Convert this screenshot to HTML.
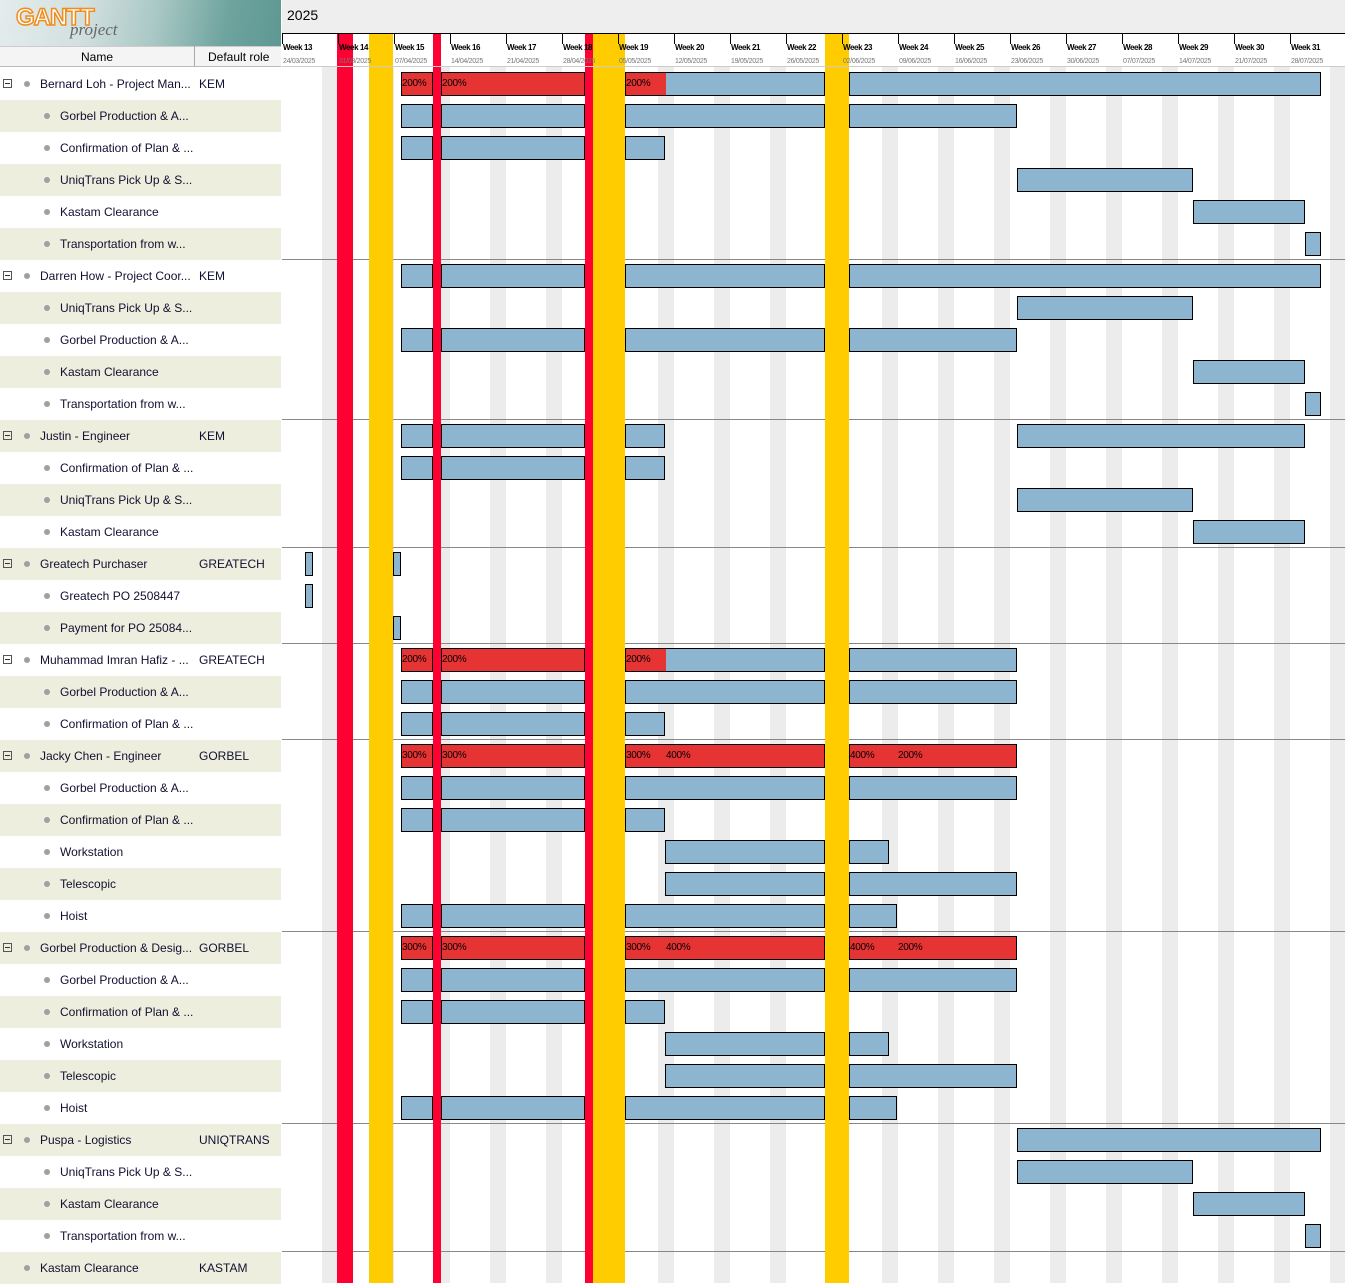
<!DOCTYPE html>
<html><head><meta charset="utf-8">
<style>
body{margin:0;width:1345px;height:1283px;overflow:hidden;background:#fff;font-family:"Liberation Sans",sans-serif;position:relative}
.a{position:absolute}
#hdr{left:282px;top:0;width:1063px;height:33px;background:#eeeeee;border-bottom:1px solid #000}
.wk{position:absolute;top:43px;font-size:8px;font-weight:bold;color:#000;letter-spacing:-0.4px;z-index:4}
.dt{position:absolute;top:58px;font-size:7px;color:#777;letter-spacing:-0.3px;z-index:4}
.tk{position:absolute;top:34px;width:1px;height:10px;background:#000;z-index:4}
.row{position:absolute;left:0;width:281px;height:32px;font-size:12px;line-height:32px;color:#101030}
.b{position:absolute;background:#8eb5cf;border:1px solid #000;box-sizing:border-box;height:24px}
.r{background:#e63333}
.lb{position:absolute;font-size:10px;line-height:24px;color:#000;letter-spacing:-0.3px}
.exp{position:absolute;left:3px;top:11px;width:7px;height:7px;border:1px solid #555;font-size:0}
.exp:after{content:"";position:absolute;left:1px;top:3px;width:5px;height:1px;background:#333}
.dot{position:absolute;top:13px;width:6px;height:6px;border-radius:50%;background:#a0a0a0}
</style></head><body>
<div class="a" style="left:0;top:0;width:281px;height:46px;background:linear-gradient(100deg,#e4ecec 0%,#d2e0df 30%,#a9c8c5 55%,#6ea39e 80%,#5e9893 100%)"></div>
<div class="a" style="left:16px;top:4px;font-size:24px;font-weight:bold;color:#fff;-webkit-text-stroke:1.5px #f08c1a;letter-spacing:-1px">GANTT</div>
<div class="a" style="left:70px;top:20px;font-size:17px;font-style:italic;color:#666;font-family:'Liberation Serif',serif">project</div>
<div class="a" style="left:0;top:46px;width:281px;height:21px;background:#f4f4f4;border-top:1px solid #ccc;border-bottom:1px solid #bbb;box-sizing:border-box"></div>
<div class="a" style="left:194px;top:46px;width:1px;height:21px;background:#aaa"></div>
<div class="a" style="left:81px;top:50px;font-size:12px">Name</div>
<div class="a" style="left:208px;top:50px;font-size:12px">Default role</div>
<div id="hdr" class="a"></div>
<div class="a" style="left:287px;top:7px;font-size:14px">2025</div>
<div class="a" style="left:282px;top:66px;width:1063px;height:1px;background:#ccc;z-index:4"></div>
<div id="g"></div>
<script>
var g=document.getElementById('g'),h='';
function box(x,y,w,hh,c,z){h+='<div class="a" style="left:'+x+'px;top:'+y+'px;width:'+w+'px;height:'+hh+'px;background:'+c+(z?';z-index:'+z:'')+'"></div>';}
for(var i=0;i<38;i++){if(i%2)box(0,68+32*i,281,32,'#eeeedf');}
for(var k=0;k<19;k++){box(282+56*k+40,67,16,1216,'#ececec');}
var dates=['24/03/2025','31/03/2025','07/04/2025','14/04/2025','21/04/2025','28/04/2025','05/05/2025','12/05/2025','19/05/2025','26/05/2025','02/06/2025','09/06/2025','16/06/2025','23/06/2025','30/06/2025','07/07/2025','14/07/2025','21/07/2025','28/07/2025'];
for(var k=0;k<19;k++){var x=282+56*k;h+='<div class="tk" style="left:'+x+'px"></div><div class="wk" style="left:'+(x+1)+'px">Week '+(13+k)+'</div><div class="dt" style="left:'+(x+1)+'px">'+dates[k]+'</div>';}
[259,419,547,643,739,931,1123,1251].forEach(function(y){box(282,y,1063,1,'#888');});
var A=[401,433],B=[441,585],C=[625,825],C1=[625,665],D=[849,1321],E=[849,1017];
var rows={0:[A,B,C,D],1:[A,B,C,E],2:[A,B,C1],3:[[1017,1193]],4:[[1193,1305]],5:[[1305,1321]],
6:[A,B,C,D],7:[[1017,1193]],8:[A,B,C,E],9:[[1193,1305]],10:[[1305,1321]],
11:[A,B,C1,[1017,1305]],12:[A,B,C1],13:[[1017,1193]],14:[[1193,1305]],
15:[[305,313],[393,401]],16:[[305,313]],17:[[393,401]],
18:[A,B,C,E],19:[A,B,C,E],20:[A,B,C1],
21:[A,B,C,E],22:[A,B,C,E],23:[A,B,C1],24:[[665,825],[849,889]],25:[[665,825],E],26:[A,B,C,[849,897]],
27:[A,B,C,E],28:[A,B,C,E],29:[A,B,C1],30:[[665,825],[849,889]],31:[[665,825],E],32:[A,B,C,[849,897]],
33:[[1017,1321]],34:[[1017,1193]],35:[[1193,1305]],36:[[1305,1321]]};
var red={0:1,18:1,21:2,27:2};
for(var r in rows){var y=72+32*r;rows[r].forEach(function(s){var cls='b';var bg='';
 if(red[r]==2&&s!==D)cls+=' r';
 if(red[r]==1&&(s===A||s===B))cls+=' r';
 if(red[r]==1&&s===C)bg=';background:linear-gradient(90deg,#e63333 0,#e63333 40px,#8eb5cf 40px)';
 h+='<div class="'+cls+'" style="left:'+s[0]+'px;top:'+y+'px;width:'+(s[1]-s[0])+'px'+bg+'"></div>';});}
[[337,16,'#ff0033'],[433,8,'#ff0033'],[585,8,'#ff0033'],[369,24,'#ffcc00'],[593,32,'#ffcc00'],[825,24,'#ffcc00']].forEach(function(s){box(s[0],34,s[1],1249,s[2],2);});
g.innerHTML=h;
</script>
<div style="position:absolute;left:0;top:0;z-index:3">
<div class="lb" style="left:402px;top:72px">200%</div><div class="lb" style="left:442px;top:72px">200%</div><div class="lb" style="left:626px;top:72px">200%</div>
<div class="lb" style="left:402px;top:648px">200%</div><div class="lb" style="left:442px;top:648px">200%</div><div class="lb" style="left:626px;top:648px">200%</div>
<div class="lb" style="left:402px;top:744px">300%</div><div class="lb" style="left:442px;top:744px">300%</div><div class="lb" style="left:626px;top:744px">300%</div><div class="lb" style="left:666px;top:744px">400%</div><div class="lb" style="left:850px;top:744px">400%</div><div class="lb" style="left:898px;top:744px">200%</div>
<div class="lb" style="left:402px;top:936px">300%</div><div class="lb" style="left:442px;top:936px">300%</div><div class="lb" style="left:626px;top:936px">300%</div><div class="lb" style="left:666px;top:936px">400%</div><div class="lb" style="left:850px;top:936px">400%</div><div class="lb" style="left:898px;top:936px">200%</div>
</div>
<div style="position:absolute;left:0;top:0;z-index:3">
<div class="row" style="top:68px"><span class="exp"></span><span class="dot" style="left:24px"></span><span class="a" style="left:40px">Bernard Loh - Project Man...</span><span class="a" style="left:199px">KEM</span></div>
<div class="row" style="top:100px"><span class="dot" style="left:44px"></span><span class="a" style="left:60px">Gorbel Production &amp; A...</span></div>
<div class="row" style="top:132px"><span class="dot" style="left:44px"></span><span class="a" style="left:60px">Confirmation of Plan &amp; ...</span></div>
<div class="row" style="top:164px"><span class="dot" style="left:44px"></span><span class="a" style="left:60px">UniqTrans Pick Up &amp; S...</span></div>
<div class="row" style="top:196px"><span class="dot" style="left:44px"></span><span class="a" style="left:60px">Kastam Clearance</span></div>
<div class="row" style="top:228px"><span class="dot" style="left:44px"></span><span class="a" style="left:60px">Transportation from w...</span></div>
<div class="row" style="top:260px"><span class="exp"></span><span class="dot" style="left:24px"></span><span class="a" style="left:40px">Darren How - Project Coor...</span><span class="a" style="left:199px">KEM</span></div>
<div class="row" style="top:292px"><span class="dot" style="left:44px"></span><span class="a" style="left:60px">UniqTrans Pick Up &amp; S...</span></div>
<div class="row" style="top:324px"><span class="dot" style="left:44px"></span><span class="a" style="left:60px">Gorbel Production &amp; A...</span></div>
<div class="row" style="top:356px"><span class="dot" style="left:44px"></span><span class="a" style="left:60px">Kastam Clearance</span></div>
<div class="row" style="top:388px"><span class="dot" style="left:44px"></span><span class="a" style="left:60px">Transportation from w...</span></div>
<div class="row" style="top:420px"><span class="exp"></span><span class="dot" style="left:24px"></span><span class="a" style="left:40px">Justin - Engineer</span><span class="a" style="left:199px">KEM</span></div>
<div class="row" style="top:452px"><span class="dot" style="left:44px"></span><span class="a" style="left:60px">Confirmation of Plan &amp; ...</span></div>
<div class="row" style="top:484px"><span class="dot" style="left:44px"></span><span class="a" style="left:60px">UniqTrans Pick Up &amp; S...</span></div>
<div class="row" style="top:516px"><span class="dot" style="left:44px"></span><span class="a" style="left:60px">Kastam Clearance</span></div>
<div class="row" style="top:548px"><span class="exp"></span><span class="dot" style="left:24px"></span><span class="a" style="left:40px">Greatech Purchaser</span><span class="a" style="left:199px">GREATECH</span></div>
<div class="row" style="top:580px"><span class="dot" style="left:44px"></span><span class="a" style="left:60px">Greatech PO 2508447</span></div>
<div class="row" style="top:612px"><span class="dot" style="left:44px"></span><span class="a" style="left:60px">Payment for PO 25084...</span></div>
<div class="row" style="top:644px"><span class="exp"></span><span class="dot" style="left:24px"></span><span class="a" style="left:40px">Muhammad Imran Hafiz - ...</span><span class="a" style="left:199px">GREATECH</span></div>
<div class="row" style="top:676px"><span class="dot" style="left:44px"></span><span class="a" style="left:60px">Gorbel Production &amp; A...</span></div>
<div class="row" style="top:708px"><span class="dot" style="left:44px"></span><span class="a" style="left:60px">Confirmation of Plan &amp; ...</span></div>
<div class="row" style="top:740px"><span class="exp"></span><span class="dot" style="left:24px"></span><span class="a" style="left:40px">Jacky Chen - Engineer</span><span class="a" style="left:199px">GORBEL</span></div>
<div class="row" style="top:772px"><span class="dot" style="left:44px"></span><span class="a" style="left:60px">Gorbel Production &amp; A...</span></div>
<div class="row" style="top:804px"><span class="dot" style="left:44px"></span><span class="a" style="left:60px">Confirmation of Plan &amp; ...</span></div>
<div class="row" style="top:836px"><span class="dot" style="left:44px"></span><span class="a" style="left:60px">Workstation</span></div>
<div class="row" style="top:868px"><span class="dot" style="left:44px"></span><span class="a" style="left:60px">Telescopic</span></div>
<div class="row" style="top:900px"><span class="dot" style="left:44px"></span><span class="a" style="left:60px">Hoist</span></div>
<div class="row" style="top:932px"><span class="exp"></span><span class="dot" style="left:24px"></span><span class="a" style="left:40px">Gorbel Production &amp; Desig...</span><span class="a" style="left:199px">GORBEL</span></div>
<div class="row" style="top:964px"><span class="dot" style="left:44px"></span><span class="a" style="left:60px">Gorbel Production &amp; A...</span></div>
<div class="row" style="top:996px"><span class="dot" style="left:44px"></span><span class="a" style="left:60px">Confirmation of Plan &amp; ...</span></div>
<div class="row" style="top:1028px"><span class="dot" style="left:44px"></span><span class="a" style="left:60px">Workstation</span></div>
<div class="row" style="top:1060px"><span class="dot" style="left:44px"></span><span class="a" style="left:60px">Telescopic</span></div>
<div class="row" style="top:1092px"><span class="dot" style="left:44px"></span><span class="a" style="left:60px">Hoist</span></div>
<div class="row" style="top:1124px"><span class="exp"></span><span class="dot" style="left:24px"></span><span class="a" style="left:40px">Puspa - Logistics</span><span class="a" style="left:199px">UNIQTRANS</span></div>
<div class="row" style="top:1156px"><span class="dot" style="left:44px"></span><span class="a" style="left:60px">UniqTrans Pick Up &amp; S...</span></div>
<div class="row" style="top:1188px"><span class="dot" style="left:44px"></span><span class="a" style="left:60px">Kastam Clearance</span></div>
<div class="row" style="top:1220px"><span class="dot" style="left:44px"></span><span class="a" style="left:60px">Transportation from w...</span></div>
<div class="row" style="top:1252px"><span class="dot" style="left:24px"></span><span class="a" style="left:40px">Kastam Clearance</span><span class="a" style="left:199px">KASTAM</span></div>
</div>
</body></html>
